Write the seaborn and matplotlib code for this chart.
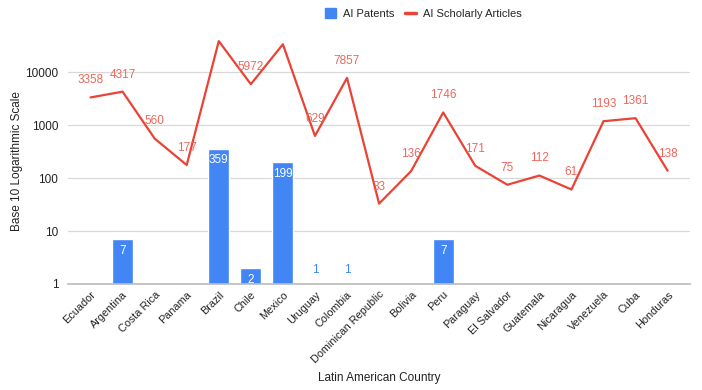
import numpy as np
import pandas as pd
import matplotlib
matplotlib.use("Agg")
import matplotlib.pyplot as plt
import seaborn as sns
from matplotlib.ticker import FixedLocator, FixedFormatter, NullLocator
from matplotlib.lines import Line2D
from matplotlib.patches import Patch

countries = ["Ecuador", "Argentina", "Costa Rica", "Panama", "Brazil", "Chile", "Mexico",
             "Uruguay", "Colombia", "Dominican Republic", "Bolivia", "Peru", "Paraguay",
             "El Salvador", "Guatemala", "Nicaragua", "Venezuela", "Cuba", "Honduras"]
patents = [np.nan, 7, np.nan, np.nan, 359, 2, 199, 1, 1, np.nan, np.nan, 7, np.nan,
           np.nan, np.nan, np.nan, np.nan, np.nan, np.nan]
articles = [3358, 4317, 560, 177, 39000, 5972, 34000, 629, 7857, 33, 136, 1746, 171,
            75, 112, 61, 1193, 1361, 138]
yticks = [1, 10, 100, 1000, 10000]

BLUE = "#4285F4"
RED = "#EA4335"
LABEL_RED = "#EE675C"

sns.set_theme(style="white")
plt.rcParams['font.family'] = ['Liberation Sans', 'DejaVu Sans']

df = pd.DataFrame({"country": countries, "patents": patents, "articles": articles,
                   "pos": np.arange(len(countries))})

fig = plt.figure(figsize=(7.02, 3.90), dpi=100)
ax = fig.add_axes([0.097, 0.272, 0.886, 0.631])

sns.barplot(data=df, x="country", y="patents", color=BLUE, saturation=1, width=0.65, ax=ax,
            zorder=2)
sns.lineplot(data=df, x="pos", y="articles", color=RED, linewidth=1.6, ax=ax, zorder=3,
             sort=False)

ax.set_yscale("log")
ax.set_ylim(1, 45000)
ax.set_xlim(-0.7, len(countries) - 0.3)
ax.yaxis.set_major_locator(FixedLocator(yticks))
ax.yaxis.set_major_formatter(FixedFormatter([str(t) for t in yticks]))
ax.yaxis.set_minor_locator(NullLocator())
ax.grid(axis="y", color="#d9d9d9", linewidth=0.9, zorder=0)
ax.set_axisbelow(True)
for s in ["top", "right", "left"]:
    ax.spines[s].set_visible(False)
ax.spines["bottom"].set_color("#bdbdbd")
ax.tick_params(axis="y", length=0, labelsize=8.5, colors="#222222", pad=7)
ax.tick_params(axis="x", length=0, labelsize=7.8, colors="#222222", pad=4)
ax.set_xticks(range(len(countries)))
ax.set_xticklabels(countries, rotation=45, ha="right", rotation_mode="anchor")
ax.set_xlabel("Latin American Country", fontsize=8.5, color="#222222")
ax.xaxis.set_label_coords(0.5, -0.382)
ax.xaxis.label.set_va("center")
ax.set_ylabel("Base 10 Logarithmic Scale", fontsize=8.5, color="#222222")
ax.yaxis.set_label_coords(-0.082, 0.5)
ax.yaxis.label.set_va("center")

# bar labels
for i, v in enumerate(patents):
    if np.isnan(v):
        continue
    if v <= 1:
        ax.text(i, 1.8, f"{int(v)}", ha="center", va="center", color=BLUE, fontsize=8.5)
    else:
        ax.annotate(f"{int(v)}", (i, v), xytext=(0, -4), textcoords="offset points",
                    ha="center", va="top", color="white", fontsize=8.5, zorder=4)

# line labels
for i, v in enumerate(articles):
    ax.annotate(f"{v}", (i, v), xytext=(0, 8), textcoords="offset points",
                ha="center", va="bottom", color=LABEL_RED, fontsize=8.5, zorder=4,
                annotation_clip=True, clip_on=True)

handles = [Patch(facecolor=BLUE, edgecolor=BLUE),
           Line2D([0], [0], color=RED, linewidth=2.5)]
fig.legend(handles, ["AI Patents", "AI Scholarly Articles"], loc="center",
           bbox_to_anchor=(0.603, 0.965), ncol=2, frameon=False, fontsize=8,
           handlelength=1.0, handleheight=1.0, columnspacing=1.0, handletextpad=0.6)

fig.savefig("out.png", dpi=100, facecolor="white")
